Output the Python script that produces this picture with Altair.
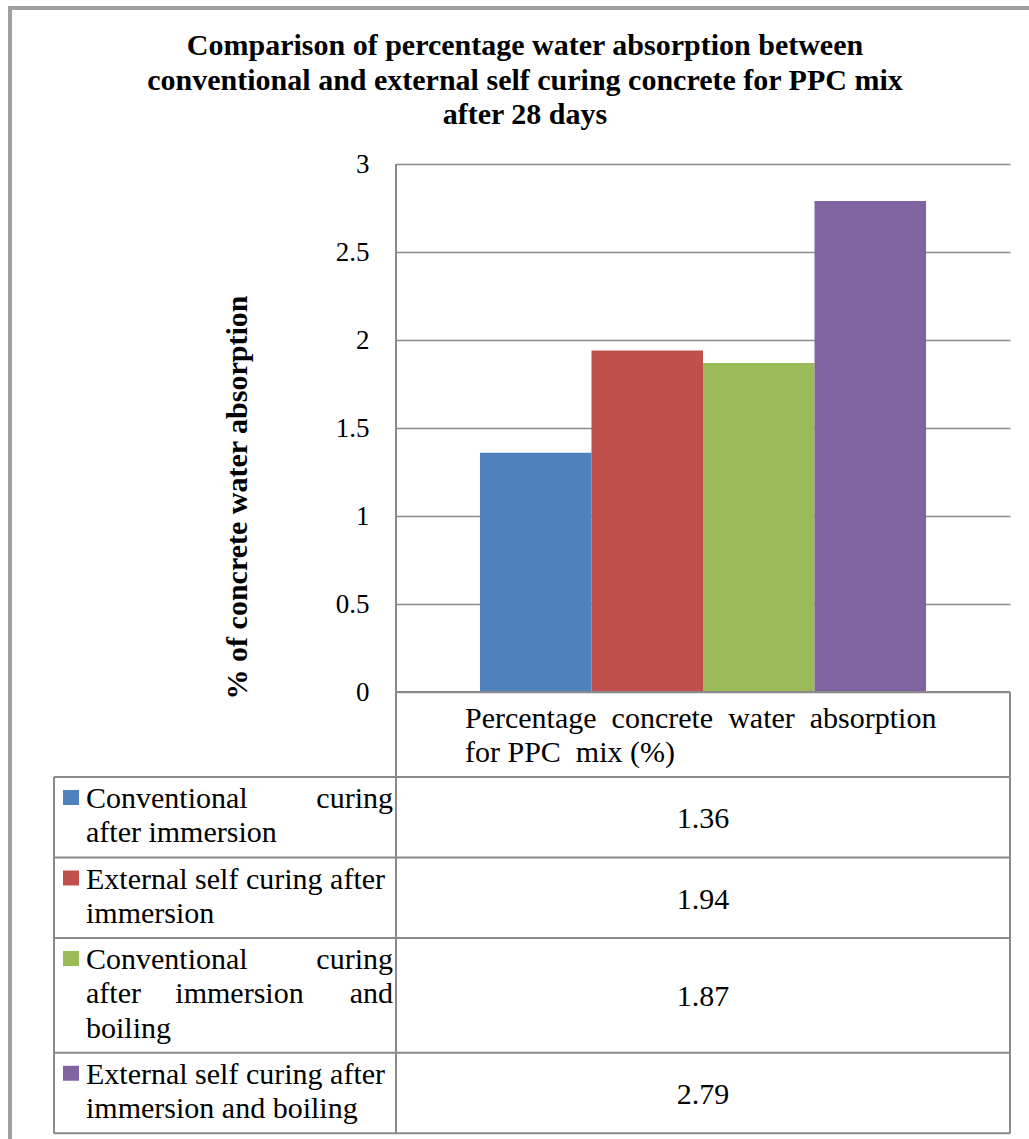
import altair as alt
import pandas as pd

# ---- chart content -------------------------------------------------------
title_lines = [
    "Comparison of percentage water absorption between",
    "conventional and external self curing concrete for PPC mix",
    "after 28 days",
]
y_title = "% of concrete water absorption"
y_ticks = [0, 0.5, 1, 1.5, 2, 2.5, 3]

series = [
    "Conventional curing after immersion",
    "External self curing after immersion",
    "Conventional curing after immersion and boiling",
    "External self curing after immersion and boiling",
]
values = [1.36, 1.94, 1.87, 2.79]
colors = ["#4F81BD", "#C0504D", "#9BBB59", "#8064A2"]

# legend cells of the data table, line by line; a line split into pieces is
# spread across the full cell width (justified text)
legend_lines = [
    [["Conventional", "curing"], ["after immersion"]],
    [["External self curing after"], ["immersion"]],
    [["Conventional", "curing"], ["after", "immersion", "and"], ["boiling"]],
    [["External self curing after"], ["immersion and boiling"]],
]
category_lines = [
    "Percentage\u00a0\u00a0concrete\u00a0\u00a0water\u00a0\u00a0absorption",
    "for PPC\u00a0\u00a0mix (%)",
]

# ---- layout (pixels, relative to the plot area's top-left corner) ---------
CANVAS_W, CANVAS_H = 1029, 1139
PLOT_L, PLOT_T = 396, 164
PLOT_W, PLOT_H = 614, 528
HEADER_H = 85
ROW_PAD, LINE_H, FIRST_BASE = 12, 34.25, 31
LEG_LEFT = 54 - PLOT_L          # left edge of the legend column
TXT_L, TXT_R = 86 - PLOT_L, 393 - PLOT_L
SW_L, SW_R = 63 - PLOT_L, 79 - PLOT_L
FONT = "Liberation Serif"
GRID = "#8a8a8a"

# row tops of the data table
rows_top = []
y = PLOT_H + HEADER_H
for lines in legend_lines:
    rows_top.append(y)
    y += ROW_PAD + LINE_H * len(lines)
table_bottom = y

# table border lines
rules = [
    dict(x=0, x2=0, y=-0.0, y2=table_bottom),
    dict(x=PLOT_W, x2=PLOT_W, y=PLOT_H, y2=table_bottom),
    dict(x=LEG_LEFT, x2=LEG_LEFT, y=rows_top[0], y2=table_bottom),
    dict(x=0, x2=PLOT_W, y=PLOT_H, y2=PLOT_H),
]
for t in rows_top + [table_bottom]:
    rules.append(dict(x=LEG_LEFT, x2=PLOT_W, y=t, y2=t))
rules_df = pd.DataFrame(rules)

# outer frame (left and top edges)
frame_df = pd.DataFrame([
    dict(x=10 - PLOT_L, x2=10 - PLOT_L, y=7 - PLOT_T, y2=CANVAS_H - PLOT_T),
    dict(x=8 - PLOT_L, x2=CANVAS_W - PLOT_L, y=8 - PLOT_T, y2=8 - PLOT_T),
])

# text pieces, grouped by alignment
left_txt, center_txt, right_txt, swatches = [], [], [], []
for i, lines in enumerate(legend_lines):
    top = rows_top[i]
    for j, pieces in enumerate(lines):
        base = top + FIRST_BASE + LINE_H * j
        if len(pieces) == 1:
            left_txt.append(dict(px=TXT_L, py=base, text=pieces[0]))
        else:
            left_txt.append(dict(px=TXT_L, py=base, text=pieces[0]))
            right_txt.append(dict(px=TXT_R, py=base, text=pieces[-1]))
            n = len(pieces) - 1
            for k, p in enumerate(pieces[1:-1], start=1):
                center_txt.append(dict(px=TXT_L + (TXT_R - TXT_L) * k / n, py=base, text=p))
    first_base = top + FIRST_BASE
    swatches.append(dict(x=SW_L, x2=SW_R, y=first_base - 18, y2=first_base - 3, color=colors[i]))

for j, line in enumerate(category_lines):
    left_txt.append(dict(px=465 - PLOT_L, py=PLOT_H + 36 + 34 * j, text=line))

value_df = pd.DataFrame({
    "px": [PLOT_W / 2] * len(values),
    "py": [rows_top[i] + (ROW_PAD + LINE_H * len(legend_lines[i])) / 2 + 2 for i in range(len(values))],
    "value": values,
})

title_df = pd.DataFrame({
    "px": [525 - PLOT_L] * len(title_lines),
    "py": [55 - PLOT_T + 34.5 * k for k in range(len(title_lines))],
    "text": title_lines,
})

bars_df = pd.DataFrame({"series": series, "value": values})

# ---- marks ---------------------------------------------------------------
def px(field="px"):
    return alt.X(f"{field}:Q", scale=None, axis=None)


def py(field="py"):
    return alt.Y(f"{field}:Q", scale=None, axis=None)


bars = alt.Chart(bars_df).mark_bar().encode(
    x=alt.X("series:N", sort=series, axis=None,
            scale=alt.Scale(paddingInner=0, paddingOuter=0.753)),
    y=alt.Y("value:Q", scale=alt.Scale(domain=[0, 3], nice=False),
            axis=alt.Axis(values=y_ticks, format="~g", grid=True, gridColor=GRID,
                          gridWidth=1.5, domain=False, ticks=False,
                          labelFont=FONT, labelFontSize=27, labelColor="black",
                          labelPadding=27, labelBaseline="middle",
                          title=y_title, titleFont=FONT, titleFontSize=30,
                          titleFontWeight="bold", titleColor="black",
                          titleAngle=270, titleX=237 - PLOT_L, titleY=497 - PLOT_T,
                          titleAlign="center", titleBaseline="middle")),
    color=alt.Color("series:N", scale=alt.Scale(domain=series, range=colors), legend=None),
)

table_rules = alt.Chart(rules_df).mark_rule(color=GRID, strokeWidth=2).encode(
    x=px("x"), x2="x2:Q", y=py("y"), y2="y2:Q")

frame = alt.Chart(frame_df).mark_rule(color="#a0a0a0", strokeWidth=4).encode(
    x=px("x"), x2="x2:Q", y=py("y"), y2="y2:Q")

swatch = alt.Chart(pd.DataFrame(swatches)).mark_rect().encode(
    x=px("x"), x2="x2:Q", y=py("y"), y2="y2:Q",
    color=alt.Color("color:N", scale=None))


def text_layer(rows, align, **kw):
    return alt.Chart(pd.DataFrame(rows)).mark_text(
        align=align, baseline="alphabetic", font=FONT, fontSize=30, color="black", **kw
    ).encode(x=px(), y=py(), text="text:N")


values_txt = alt.Chart(value_df).mark_text(
    align="center", baseline="middle", font=FONT, fontSize=30, color="black"
).encode(x=px(), y=py(), text=alt.Text("value:Q", format=".2f"))

title = alt.Chart(title_df).mark_text(
    align="center", baseline="alphabetic", font=FONT, fontSize=30,
    fontWeight="bold", color="black"
).encode(x=px(), y=py(), text="text:N")

layers = [frame, bars, table_rules, swatch,
          text_layer(left_txt, "left"), values_txt, title]
if center_txt:
    layers.append(text_layer(center_txt, "center"))
if right_txt:
    layers.append(text_layer(right_txt, "right"))

chart = alt.layer(*layers).resolve_scale(
    x="independent", y="independent", color="independent"
).properties(
    width=PLOT_W, height=PLOT_H,
    autosize=alt.AutoSizeParams(type="none"),
    padding={"left": PLOT_L, "top": PLOT_T,
             "right": CANVAS_W - PLOT_L - PLOT_W,
             "bottom": CANVAS_H - PLOT_T - PLOT_H},
    background="white",
).configure_view(strokeWidth=0)

chart.save("out.html", embed_options={"renderer": "svg", "actions": False})
